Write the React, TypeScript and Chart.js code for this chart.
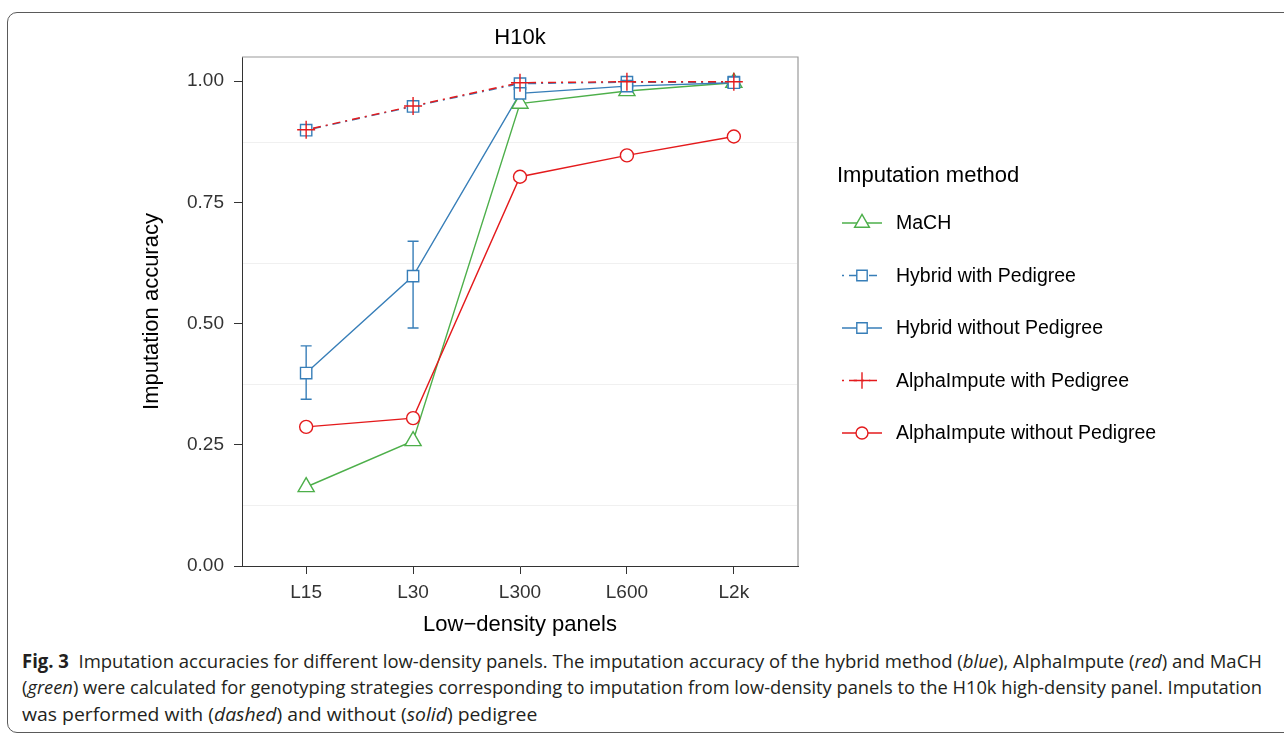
import React, { useEffect, useLayoutEffect, useRef, useState } from 'react';
import { Chart, registerables } from 'chart.js';
import { drawPoint } from 'chart.js/helpers';

Chart.register(...registerables);

// Low-density panels on the x axis
const panels = ['L15', 'L30', 'L300', 'L600', 'L2k'];

// Imputation accuracy per method
const machAcc = [0.163, 0.258, 0.954, 0.980, 0.997];
const hybridPedAcc = [0.899, 0.948, 0.995, 0.998, 0.998];
const hybridAcc = [0.398, 0.598, 0.975, 0.990, 0.997];
const hybridLow = [0.344, 0.491, 0.969, 0.986, 0.995];
const hybridHigh = [0.454, 0.670, 0.981, 0.994, 0.999];
const alphaPedAcc = [0.900, 0.949, 0.997, 0.999, 0.999];
const alphaAcc = [0.287, 0.305, 0.803, 0.847, 0.886];

// Axis ticks
const yTicks = [0, 0.25, 0.5, 0.75, 1.0];
const yMinorTicks = [0.125, 0.375, 0.625, 0.875];

const GREEN = '#4DAF4A';
const BLUE = '#377EB8';
const RED = '#E41A1C';
const FONT = '"Liberation Sans", Arial, sans-serif';
const DOTDASH = [2, 5, 8, 5];

type Series = {
  label: string;
  values: number[];
  color: string;
  pointStyle: string;
  radius: number;
  dash: number[];
  fill: string;
};

const series: Series[] = [
  { label: 'MaCH', values: machAcc, color: GREEN, pointStyle: 'triangle', radius: 9.3, dash: [], fill: '#ffffff' },
  { label: 'Hybrid with Pedigree', values: hybridPedAcc, color: BLUE, pointStyle: 'rect', radius: 8, dash: DOTDASH, fill: '#ffffff' },
  { label: 'Hybrid without Pedigree', values: hybridAcc, color: BLUE, pointStyle: 'rect', radius: 8, dash: [], fill: '#ffffff' },
  { label: 'AlphaImpute with Pedigree', values: alphaPedAcc, color: RED, pointStyle: 'cross', radius: 9, dash: DOTDASH, fill: 'rgba(0,0,0,0)' },
  { label: 'AlphaImpute without Pedigree', values: alphaAcc, color: RED, pointStyle: 'circle', radius: 6.5, dash: [], fill: '#ffffff' },
];

const toXY = (vals: number[]) => vals.map((v, i) => ({ x: i, y: v }));

// Faint minor grid, error bars and the upper/right panel border
const panelPlugin = {
  id: 'panelDecor',
  beforeDatasetsDraw(chart: any) {
    const { ctx, chartArea, scales } = chart;
    ctx.save();
    ctx.strokeStyle = '#f0f0f0';
    ctx.lineWidth = 1;
    yMinorTicks.forEach((v) => {
      const y = Math.round(scales.y.getPixelForValue(v)) + 0.5;
      ctx.beginPath();
      ctx.moveTo(chartArea.left + 1, y);
      ctx.lineTo(chartArea.right - 1, y);
      ctx.stroke();
    });
    // error bars for the hybrid method without pedigree
    ctx.strokeStyle = BLUE;
    ctx.lineWidth = 1.4;
    hybridAcc.forEach((_, i) => {
      const x = scales.x.getPixelForValue(i);
      const yLo = scales.y.getPixelForValue(hybridLow[i]);
      const yHi = scales.y.getPixelForValue(hybridHigh[i]);
      const half = 5.5;
      ctx.beginPath();
      ctx.moveTo(x, yLo);
      ctx.lineTo(x, yHi);
      ctx.moveTo(x - half, yLo);
      ctx.lineTo(x + half, yLo);
      ctx.moveTo(x - half, yHi);
      ctx.lineTo(x + half, yHi);
      ctx.stroke();
    });
    ctx.restore();
  },
  afterDatasetsDraw(chart: any) {
    const { ctx, chartArea } = chart;
    ctx.save();
    ctx.strokeStyle = '#9a9a9a';
    ctx.lineWidth = 1.2;
    ctx.beginPath();
    ctx.moveTo(chartArea.left, chartArea.top);
    ctx.lineTo(chartArea.right, chartArea.top);
    ctx.lineTo(chartArea.right, chartArea.bottom);
    ctx.stroke();
    ctx.restore();
  },
};

// Legend to the right of the panel: line key with marker in the middle
const legendPlugin = {
  id: 'sideLegend',
  afterDraw(chart: any) {
    const { ctx } = chart;
    const left = 838;
    const keyW = 44;
    const textX = 896;
    const titleY = 176;
    const firstY = 223;
    const step = 52.5;
    ctx.save();
    ctx.fillStyle = '#000';
    ctx.font = `22px ${FONT}`;
    ctx.textBaseline = 'middle';
    ctx.textAlign = 'left';
    ctx.fillText('Imputation method', left - 1, titleY);
    series.forEach((s, i) => {
      const y = firstY + i * step;
      ctx.save();
      ctx.strokeStyle = s.color;
      ctx.lineWidth = 1.6;
      ctx.setLineDash(s.dash);
      ctx.beginPath();
      ctx.moveTo(left + 4, y);
      ctx.lineTo(left + keyW, y);
      ctx.stroke();
      ctx.setLineDash([]);
      ctx.fillStyle = s.fill;
      ctx.lineWidth = 1.4;
      drawPoint(ctx, { pointStyle: s.pointStyle as any, radius: s.radius * 0.92, rotation: 0, borderWidth: 1.4 }, left + 4 + (keyW - 4) / 2, y);
      ctx.restore();
      ctx.fillStyle = '#000';
      ctx.font = `19.5px ${FONT}`;
      ctx.fillText(s.label, textX, y + 1);
    });
    ctx.restore();
  },
};

function H10kChart() {
  const ref = useRef<HTMLCanvasElement>(null);
  useEffect(() => {
    if (!ref.current) return;
    const n = series.length;
    const lineSets = series.map((s, i) => ({
      label: s.label,
      data: toXY(s.values),
      borderColor: s.color,
      borderWidth: 1.4,
      borderDash: s.dash,
      pointRadius: 0,
      showLine: true,
      fill: false,
      tension: 0,
      order: 20 + (n - i),
    }));
    const pointSets = series.map((s, i) => ({
      label: s.label + ' points',
      data: toXY(s.values),
      showLine: false,
      pointStyle: s.pointStyle,
      pointRadius: s.radius,
      pointBorderWidth: 1.4,
      pointBorderColor: s.color,
      pointBackgroundColor: s.fill,
      borderColor: s.color,
      order: n - i,
    }));
    const chart = new Chart(ref.current, {
      type: 'line',
      data: { datasets: [...lineSets, ...pointSets] as any },
      options: {
        responsive: false,
        maintainAspectRatio: false,
        animation: false,
        devicePixelRatio: 1,
        layout: { padding: { left: 130, right: 486, top: 0, bottom: 0 } },
        plugins: {
          legend: { display: false },
          tooltip: { enabled: false },
          title: {
            display: true,
            text: 'H10k',
            fullSize: false,
            color: '#000',
            font: { family: FONT, size: 22, weight: 'normal' },
            padding: { top: 25, bottom: 5.6 },
          },
        },
        scales: {
          x: {
            type: 'linear',
            min: -0.6,
            max: 4.6,
            afterBuildTicks: (s: any) => {
              s.ticks = panels.map((_, i) => ({ value: i }));
            },
            afterFit: (s: any) => {
              s.height = 79;
            },
            ticks: {
              autoSkip: false,
              maxRotation: 0,
              padding: 7.6,
              color: '#333',
              font: { family: FONT, size: 19 },
              callback: (v: any) => panels[v as number],
            },
            grid: { drawOnChartArea: false, drawTicks: true, tickLength: 8, tickColor: '#333', tickWidth: 1 },
            border: { color: '#333', width: 1 },
            title: {
              display: true,
              text: 'Low\u2212density panels',
              color: '#000',
              font: { family: FONT, size: 22 },
              padding: { top: 0, bottom: 7 },
            },
          },
          y: {
            type: 'linear',
            min: 0,
            max: 1.05,
            afterBuildTicks: (s: any) => {
              s.ticks = yTicks.map((v) => ({ value: v }));
            },
            afterFit: (s: any) => {
              s.width = 112;
            },
            ticks: {
              padding: 10,
              color: '#333',
              font: { family: FONT, size: 19 },
              callback: (v: any) => Number(v).toFixed(2),
            },
            grid: { drawOnChartArea: false, drawTicks: true, tickLength: 8, tickColor: '#333', tickWidth: 1 },
            border: { color: '#333', width: 1 },
            title: {
              display: true,
              text: 'Imputation accuracy',
              color: '#000',
              font: { family: FONT, size: 22 },
              padding: { top: 9, bottom: 0 },
            },
          },
        },
      } as any,
      plugins: [panelPlugin, legendPlugin],
    });
    return () => chart.destroy();
  }, []);
  return <canvas ref={ref} width={1284} height={645} style={{ position: 'absolute', left: 0, top: 0 }} />;
}

const captionFont = '"Open Sans", "Noto Sans", sans-serif';
const CAPTION_WIDTH = 1240;
const LAST_LINE_WIDTH = 515;

// Caption lines are squeezed horizontally to their set widths
function Caption() {
  const l1 = useRef<HTMLDivElement>(null);
  const l2 = useRef<HTMLDivElement>(null);
  const l3 = useRef<HTMLDivElement>(null);
  const [k, setK] = useState<number[]>([1, 1, 1]);
  useLayoutEffect(() => {
    const w1 = l1.current ? l1.current.scrollWidth : CAPTION_WIDTH;
    const w2 = l2.current ? l2.current.scrollWidth : CAPTION_WIDTH;
    const w3 = l3.current ? l3.current.scrollWidth : LAST_LINE_WIDTH;
    setK([CAPTION_WIDTH / w1, CAPTION_WIDTH / w2, LAST_LINE_WIDTH / w3]);
  }, []);
  const base: React.CSSProperties = {
    position: 'absolute',
    left: 22,
    whiteSpace: 'nowrap',
    fontFamily: captionFont,
    fontSize: 19,
    lineHeight: '26px',
    color: '#231f20',
    transformOrigin: '0 0',
  };
  return (
    <>
      <div ref={l1} style={{ ...base, top: 648, transform: `scaleX(${k[0]})` }}>
        <b>Fig. 3</b>&nbsp; Imputation accuracies for different low-density panels. The imputation accuracy of the hybrid method (<i>blue</i>), AlphaImpute (<i>red</i>) and MaCH
      </div>
      <div ref={l2} style={{ ...base, top: 674, transform: `scaleX(${k[1]})` }}>
        (<i>green</i>) were calculated for genotyping strategies corresponding to imputation from low-density panels to the H10k high-density panel. Imputation
      </div>
      <div ref={l3} style={{ ...base, top: 701, transform: `scaleX(${k[2]})` }}>
        was performed with (<i>dashed</i>) and without (<i>solid</i>) pedigree
      </div>
    </>
  );
}

export default function App() {
  return (
    <div style={{ position: 'absolute', left: 0, top: 0, width: 1284, height: 733, overflow: 'hidden', background: '#fff' }}>
      <div
        style={{
          position: 'absolute',
          left: 7,
          top: 12,
          width: 1320,
          height: 719,
          border: '1.5px solid #5a5a5a',
          borderRadius: 10,
        }}
      />
      <H10kChart />
      <Caption />
    </div>
  );
}
